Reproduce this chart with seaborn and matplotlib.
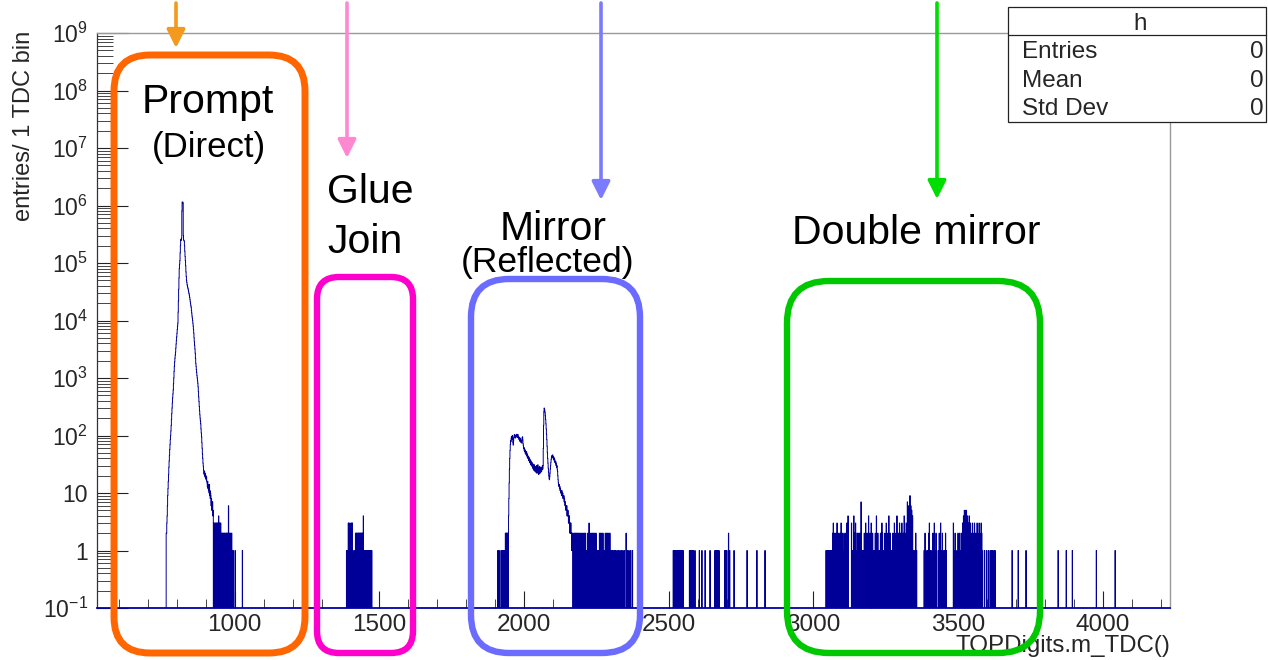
import numpy as np
import pandas as pd
import matplotlib
matplotlib.use("Agg")
import matplotlib.pyplot as plt
import seaborn as sns
from matplotlib.patches import FancyBboxPatch, FancyArrowPatch, Rectangle
from matplotlib.lines import Line2D
from matplotlib.ticker import FixedLocator, LogLocator, MultipleLocator, NullFormatter

# ---------------- data ----------------
tdc_min, tdc_max = 524, 4232          # axis range, 1 TDC per bin

# prompt (direct) peak: counts of consecutive bins starting at prompt_start
prompt_start = 763
prompt_counts = [
    2, 2, 3, 4, 6, 9, 12, 16, 21, 28,
    36, 45, 57, 70, 85, 100, 120, 150, 190, 240,
    300, 370, 450, 530, 620, 800, 1000, 1300, 1600, 1900,
    2200, 2500, 2800, 3300, 3900, 4500, 5200, 6000, 7000, 8000,
    9000, 14000, 22000, 35000, 55000, 80000, 95000, 110000, 150000, 200000,
    250000, 260000, 250000, 270000, 800000, 1150000, 1150000, 1150000, 1100000, 300000,
    250000, 250000, 240000, 200000, 160000, 130000, 110000, 90000, 70000, 58000,
    50000, 46000, 42000, 40000, 38000, 36000, 34000, 32000, 30000, 29000,
    27000, 25000, 23000, 21000, 19500, 18000, 17000, 15000, 13500, 12000,
    11000, 10000, 9000, 8000, 7000, 6000, 5000, 4300, 3700, 3200,
    2700, 2200, 1800, 1600, 1400, 1250, 1100, 1000, 900, 810,
    700, 580, 470, 390, 320, 270, 230, 200, 180, 160,
    130, 110, 95, 75, 60, 48, 40, 33, 29, 25,
    22, 21, 24, 20, 19, 22, 18, 20, 17, 19,
    16, 15, 13, 16, 12, 14, 11, 13, 10, 14,
    9, 11, 8, 10, 9, 6, 8, 5, 7, 6,
    7, 4, 5]

# mirror (reflected) peak: consecutive bins starting at mirror_start
mirror_start = 1946
mirror_counts = [
    4, 8, 15, 26, 40, 55, 70, 82, 78, 90,
    96, 85, 92, 100, 88, 75, 68, 80, 92, 98,
    104, 95, 100, 90, 96, 102, 98, 94, 105, 100,
    98, 92, 104, 96, 90, 86, 94, 88, 80, 85,
    90, 78, 82, 76, 80, 74, 86, 92, 95, 84,
    72, 66, 60, 62, 55, 58, 52, 56, 48, 53,
    50, 46, 52, 44, 48, 41, 45, 40, 43, 37,
    42, 36, 40, 34, 38, 33, 37, 31, 35, 30,
    34, 29, 33, 27, 32, 28, 25, 30, 26, 31,
    24, 28, 25, 29, 23, 27, 24, 30, 22, 28,
    25, 31, 23, 27, 21, 26, 24, 29, 22, 27,
    25, 23, 28, 24, 24, 28, 26, 30, 26, 30,
    60, 150, 260, 300, 290, 270, 250, 220, 190, 160,
    130, 105, 85, 65, 50, 40, 33, 27, 23, 20,
    18, 17, 19, 22, 26, 30, 34, 38, 41, 43,
    45, 42, 46, 44, 40, 43, 38, 41, 36, 39,
    34, 36, 33, 35, 30, 32, 28, 30, 26, 24,
    20, 17, 15, 14, 13, 14, 12, 13, 11, 12,
    10, 11, 10, 9, 11, 10, 9, 10, 8, 9,
    8, 9, 7, 8, 7, 6, 7, 6, 5, 6,
    5, 6, 4, 5, 4, 5, 4, 3, 4, 3,
    4, 3, 2, 3, 2, 3, 2, 2, 1, 2,
    1, 2]

# isolated bins, grouped by their count
bins_c1 = [
    930, 953, 956, 961, 966, 969, 974, 979, 985, 988, 991, 994, 1001, 1026,
    1386, 1388, 1390, 1397, 1399, 1403, 1408, 1413, 1415, 1445, 1449, 1451,
    1453, 1455, 1457, 1459, 1461, 1463, 1465, 1467, 1469, 1471, 1473,
    1909, 1911, 1913, 1920, 1922, 1924, 1926, 1929, 1931, 1933,
    2170, 2174, 2177, 2180, 2183, 2186, 2190, 2194, 2198, 2202, 2206, 2210,
    2214, 2218, 2222, 2226, 2230, 2234, 2238, 2242, 2246, 2250, 2253, 2258,
    2262, 2266, 2270, 2274, 2277, 2282, 2286, 2290, 2294, 2299, 2303, 2307,
    2312, 2316, 2321, 2326, 2331, 2336, 2341, 2346, 2357, 2362, 2368, 2374,
    2515, 2518, 2522, 2526, 2529, 2532, 2535, 2539, 2543, 2546, 2549, 2571,
    2574, 2577, 2581, 2584, 2590, 2605, 2614, 2625, 2642, 2659, 2662, 2666,
    2669, 2673, 2693, 2697, 2700, 2710, 2725, 2770, 2804, 2832,
    3043, 3046, 3050, 3053, 3057, 3061, 3064, 3070, 3074, 3079, 3083, 3088,
    3093, 3097, 3102, 3108, 3113, 3117, 3133, 3138, 3143, 3149,
    3153, 3158, 3168, 3172, 3177, 3182, 3188, 3192, 3197, 3201, 3206, 3210,
    3215, 3219, 3224, 3228, 3233, 3240, 3244, 3249, 3253, 3258, 3262, 3267,
    3271, 3276, 3281, 3286, 3290, 3295, 3302, 3307, 3312, 3318, 3345, 3350,
    3356, 3382, 3388, 3393, 3404, 3409, 3414, 3420,
    3425, 3431, 3436, 3441, 3447, 3452, 3458, 3485,
    3491, 3496, 3502, 3508, 3544, 3551, 3557, 3563, 3570, 3577, 3584, 3591,
    3598, 3604, 3610, 3615, 3619, 3627,
    3624, 3686, 3707, 3734, 3845, 3873, 3894, 3977, 4042]
bins_c2 = [
    954, 957, 959, 962, 964, 967, 970, 972, 975, 977, 980, 983, 986, 989,
    1417, 1419, 1421, 1424, 1426, 1428, 1430, 1432, 1434, 1436, 1438, 1440, 1442,
    1935, 1937, 1939, 1941, 1943,
    2172, 2175, 2178, 2181, 2184, 2188, 2192, 2196, 2200, 2204, 2208, 2212,
    2220, 2228, 2232, 2236, 2240, 2244, 2248, 2260, 2264, 2268, 2272, 2280,
    2284, 2288, 2292, 2296, 2352,
    2706,
    3066, 3072, 3077, 3085, 3091, 3099, 3105, 3111, 3141,
    3146, 3151, 3156, 3160, 3175, 3185, 3195, 3204, 3213, 3222, 3231, 3238,
    3246, 3256, 3265, 3274, 3284, 3293, 3300, 3310, 3315, 3353,
    3385, 3398, 3412, 3423, 3434, 3445, 3456, 3489, 3499, 3505,
    3511, 3540, 3547, 3554, 3560, 3567, 3574, 3581]
bins_c3 = [
    928, 931, 934, 936, 939, 941, 946, 949, 951,
    1392, 1394, 1395, 1401, 1404, 1406,
    2224,
    3068, 3081, 3095, 3115, 3131, 3145, 3180, 3199, 3236, 3251, 3279, 3297,
    3305, 3320, 3400, 3417, 3439, 3483, 3515, 3517, 3526,
    3530, 3535, 3542, 3549, 3556, 3565, 3572, 3579]
bins_c4 = [944, 1444, 3119, 3139, 3190, 3217, 3260, 3288, 3313, 3342, 3518, 3538]
peak_tdc = [978, 3164, 3324, 3327, 3330, 3333, 3336, 3339, 3521, 3524, 3528, 3532]
peak_cnt = [6, 7, 7, 6, 5, 9, 6, 5, 5, 5, 5, 4]

ytick_vals = [0.1, 1, 10, 1e2, 1e3, 1e4, 1e5, 1e6, 1e7, 1e8, 1e9]
ytick_labels = ["$10^{-1}$", "1", "10", "$10^{2}$", "$10^{3}$", "$10^{4}$",
                "$10^{5}$", "$10^{6}$", "$10^{7}$", "$10^{8}$", "$10^{9}$"]
xtick_vals = [1000, 1500, 2000, 2500, 3000, 3500, 4000]
xtick_labels = ["1000", "1500", "2000", "2500", "3000", "3500", "4000"]

stats_names = ["Entries", "Mean", "Std Dev"]
stats_values = ["0", "0", "0"]

# ---------------- build the 1-TDC histogram table ----------------
edges = np.arange(tdc_min, tdc_max + 1)
counts = np.zeros(len(edges) - 1)
counts[prompt_start - tdc_min: prompt_start - tdc_min + len(prompt_counts)] = prompt_counts
counts[mirror_start - tdc_min: mirror_start - tdc_min + len(mirror_counts)] = mirror_counts
for lst, c in ((bins_c1, 1), (bins_c2, 2), (bins_c3, 3), (bins_c4, 4)):
    for t in lst:
        counts[t - tdc_min] = c
for t, c in zip(peak_tdc, peak_cnt):
    counts[t - tdc_min] = c
df = pd.DataFrame({"tdc": edges[:-1] + 0.5, "n": counts})

# ---------------- style ----------------
sns.set_style("ticks")
plt.rcParams["font.family"] = ["Liberation Sans", "DejaVu Sans"]
plt.rcParams["mathtext.fontset"] = "custom"
plt.rcParams["mathtext.rm"] = "Liberation Sans"
plt.rcParams["mathtext.it"] = "Liberation Sans:italic"
plt.rcParams["mathtext.bf"] = "Liberation Sans:bold"
plt.rcParams["mathtext.default"] = "regular"

W, H = 1268, 660
fig = plt.figure(figsize=(W / 100, H / 100), dpi=100)
fig.patch.set_facecolor("white")
ax = fig.add_axes([97 / W, (H - 608) / H, (1170 - 97) / W, (608 - 33) / H])

sns.histplot(data=df, x="tdc", weights="n", bins=edges.tolist(), element="step",
             fill=False, color="#000099", linewidth=0.7, ax=ax)

ax.set_yscale("log")
ax.set_xlim(tdc_min, tdc_max)
ax.set_ylim(0.1, 1e9)
ax.set_xlabel("")
ax.set_ylabel("")

ax.yaxis.set_major_locator(FixedLocator(ytick_vals))
ax.set_yticklabels(ytick_labels)
ax.yaxis.set_minor_locator(LogLocator(base=10, subs=np.arange(2, 10) * 1.0, numticks=200))
ax.yaxis.set_minor_formatter(NullFormatter())
ax.xaxis.set_major_locator(FixedLocator(xtick_vals))
ax.set_xticklabels(xtick_labels)
ax.xaxis.set_minor_locator(MultipleLocator(100))

ax.tick_params(axis="y", which="major", direction="in", length=22.5, width=0.8,
               color="#222222", labelsize=16.5, pad=6.5)
ax.tick_params(axis="y", which="minor", direction="in", length=11.5, width=0.7,
               color="#444444")
ax.tick_params(axis="x", which="major", direction="in", length=12.3, width=0.8,
               color="#222222", labelsize=17.5, pad=4)
ax.tick_params(axis="x", which="minor", direction="in", length=6.2, width=0.7,
               color="#444444")

for side in ("top", "right"):
    ax.spines[side].set_visible(True)
    ax.spines[side].set_color("#999999")
    ax.spines[side].set_linewidth(1.0)
ax.spines["left"].set_color("#333333")
ax.spines["left"].set_linewidth(0.9)
ax.spines["bottom"].set_color("#0000aa")
ax.spines["bottom"].set_linewidth(1.3)

# axis titles
fig.text(24 / W, (H - 31) / H, "entries/ 1 TDC bin", rotation=90,
         ha="center", va="top", fontsize=17)
fig.text(1170 / W, (H - 646) / H, "TOPDigits.m_TDC()", ha="right",
         va="center", fontsize=17.4)

# ---------------- annotations (pixel layout -> inches) ----------------
tr = fig.dpi_scale_trans
def fx(px):
    return px / 100.0
def fy(py):
    return (H - py) / 100.0

boxes = [  # left, right, top, bottom (centre of stroke, px), radius px, colour, lw
    (114, 305, 55, 653, 36, "#ff6600", 5.0),
    (317, 413, 277, 653, 22, "#ff00cc", 4.6),
    (471, 640, 279, 653, 38, "#6b6bff", 4.6),
    (787, 1040, 281, 653, 42, "#00c800", 4.6),
]
for l, r, t, b, rad, col, lw in boxes:
    p = FancyBboxPatch((fx(l), fy(b)), fx(r) - fx(l), fy(t) - fy(b),
                       boxstyle=f"round,pad=0,rounding_size={rad / 100.0}",
                       transform=tr, facecolor="none", edgecolor=col,
                       linewidth=lw, zorder=5)
    fig.add_artist(p)

arrows = [  # x, tip y (px), colour
    (176, 48, "#f39a1e"),
    (347, 158, "#ff88d0"),
    (601, 200, "#7b7bff"),
    (937, 199, "#00dd00"),
]
for x, tip, col in arrows:
    a = FancyArrowPatch((fx(x), fy(3)), (fx(x), fy(tip)), transform=tr,
                        arrowstyle="-|>,head_length=1.1,head_width=0.55",
                        mutation_scale=10, linewidth=2.6, color=col,
                        shrinkA=0, shrinkB=0, zorder=7)
    fig.add_artist(a)

texts = [  # text, x px, baseline y px, size, ha
    ("Prompt", 208, 113, 29.5, "center"),
    ("(Direct)", 209, 157, 25, "center"),
    ("Glue", 327, 203, 29.5, "left"),
    ("Join", 327, 253, 29.5, "left"),
    ("Mirror", 553, 240, 29.5, "center"),
    ("(Reflected)", 548, 272, 25.5, "center"),
    ("Double mirror", 916, 244, 29.5, "center"),
]
for s, x, y, fs, ha in texts:
    fig.text(fx(x), fy(y), s, transform=tr, ha=ha, va="baseline",
             fontsize=fs, color="black", zorder=8)

# statistics box
sb_l, sb_r, sb_t, sb_b = 1008, 1266, 7, 122
fig.add_artist(Rectangle((fx(sb_l), fy(sb_b)), fx(sb_r) - fx(sb_l), fy(sb_t) - fy(sb_b),
                         transform=tr, facecolor="white", edgecolor="#222222",
                         linewidth=0.9, zorder=6))
fig.add_artist(Line2D([fx(sb_l), fx(sb_r)], [fy(35), fy(35)], transform=tr,
                      color="#222222", linewidth=0.9, zorder=7))
fig.text(fx(1140), fy(30), "h", transform=tr, ha="center", va="baseline",
         fontsize=17.5, zorder=8)
for i, (nm, val) in enumerate(zip(stats_names, stats_values)):
    yb = [58, 87, 115][i]
    fig.text(fx(1022), fy(yb), nm, transform=tr, ha="left", va="baseline",
             fontsize=17.5, zorder=8)
    fig.text(fx(1264), fy(yb), val, transform=tr, ha="right", va="baseline",
             fontsize=17.5, zorder=8)

fig.savefig("out.png", dpi=100, facecolor="white")
